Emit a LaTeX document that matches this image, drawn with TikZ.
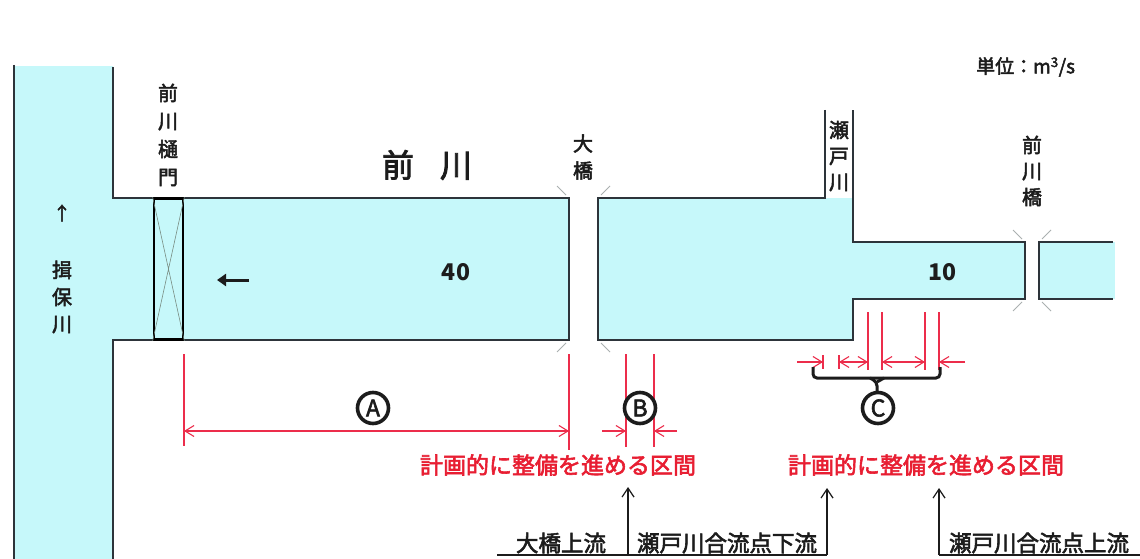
\documentclass[tikz,border=0pt]{standalone}
\usepackage{fontspec}
\setmainfont{Noto Sans CJK JP}
\newfontfamily\med{Noto Sans CJK JP}[FakeBold=2.5]
\usetikzlibrary{arrows.meta}
\definecolor{water}{RGB}{198,248,250}
\definecolor{bank}{RGB}{45,52,58}
\definecolor{ink}{RGB}{28,28,28}
\definecolor{dimred}{RGB}{236,45,75}
\definecolor{txtred}{RGB}{232,30,50}
\definecolor{bridgegray}{RGB}{170,176,176}
\definecolor{xgray}{RGB}{120,140,130}
\begin{document}
\begin{tikzpicture}[x=1pt,y=-1pt,
  bankline/.style={draw=bank,line width=1.5pt},
  bridgemark/.style={draw=bridgegray,line width=0.9pt},
  vlabel/.style={inner sep=0pt,align=center,text=ink,font=\med\fontsize{20}{#1}\selectfont},
  dimline/.style={draw=dimred,line width=1.1pt},
  dimboth/.style={dimline,{Straight Barb[length=9pt,width=11pt]}-{Straight Barb[length=9pt,width=11pt]}},
  dimto/.style={dimline,-{Straight Barb[length=9pt,width=11pt]}},
  redtext/.style={text=txtred,font=\med\fontsize{23}{23}\selectfont,inner sep=0pt},
  bottomlabel/.style={text=ink,font=\med\fontsize{22.5}{22.5}\selectfont,inner sep=0pt},
  leader/.style={draw=ink,line width=1.2pt},
  leaderarrow/.style={leader,-{Straight Barb[length=9pt,width=12pt]}},
  circlabel/.style={circle,draw=ink,fill=white,line width=3.6pt,minimum size=31pt,inner sep=0pt,font=\med\fontsize{23}{23}\selectfont,text=ink},
  gatebox/.style={draw=black,line width=2.6pt,minimum width=29pt,minimum height=141pt,inner sep=0pt},
  bracestyle/.style={draw=ink,line width=3pt,rounded corners=4pt}
]
\useasboundingbox (0,0) rectangle (1140,559);
\fill[white] (0,0) rectangle (1140,559);

% water
\fill[water] (14,66) rectangle (113,559);
\fill[water] (113,198) rectangle (569,340);
\fill[water] (598,198) rectangle (853,340);
\fill[water] (853,242) rectangle (1025,299);
\fill[water] (1039,242) rectangle (1115,299);

% banks
\draw[bankline] (14,65) -- (14,559);
\draw[bankline] (113,67) -- (113,198) -- (569,198) -- (569,340) -- (113,340) -- (113,559);
\draw[bankline] (825,110) -- (825,198) -- (598,198) -- (598,340) -- (853,340) -- (853,299) -- (1025,299) -- (1025,242) -- (853,242) -- (853,110);
\draw[bankline] (1113,242) -- (1039,242) -- (1039,299) -- (1113,299);

% bridge marks
\draw[bridgemark] (566,195) -- (557,186);
\draw[bridgemark] (601,195) -- (610,186);
\draw[bridgemark] (566,343) -- (557,352);
\draw[bridgemark] (601,343) -- (610,352);
\draw[bridgemark] (1022,239) -- (1013,230);
\draw[bridgemark] (1042,239) -- (1051,230);
\draw[bridgemark] (1022,302) -- (1013,311);
\draw[bridgemark] (1042,302) -- (1051,311);

% gate
\node (gate) [gatebox] at (168.5,269) {};
\draw[xgray,line width=0.6pt] (gate.north west) -- (gate.south east) (gate.north east) -- (gate.south west);

% flow arrow
\coordinate (flowS) at (249,280);
\coordinate (flowE) at (217,280);
\draw[ink,line width=3pt,-{Triangle[length=9pt,width=12pt]}] (flowS) -- (flowE);

% labels
\node (unit) [anchor=west,inner sep=0pt,text=ink,font=\med\fontsize{19}{19}\selectfont] at (976,67) {単位：m\textsuperscript{3}/s};
\node (title) [inner sep=0pt,text=ink,font=\med\fontsize{32}{32}\selectfont] at (427,165) {前\hspace{26pt}川};
\node (q40) [inner sep=0pt,text=ink,font=\fontsize{23}{23}\selectfont\bfseries] at (456,272) {40};
\node (q10) [inner sep=0pt,text=ink,font=\fontsize{23}{23}\selectfont\bfseries] at (942,272) {10};
\node (gatename) [vlabel=28] at (168,135) {前\\川\\樋\\門};
\node (ohashi) [vlabel=27] at (583,157) {大\\橋};
\node (seto) [vlabel=26] at (839,156) {瀬\\戸\\川};
\node (maebashi) [vlabel=26] at (1032,171) {前\\川\\橋};
\node (ibo) [vlabel=27] at (62,297) {揖\\保\\川};
\node (iboarrow) [inner sep=0pt,text=ink,font=\med\fontsize{18}{18}\selectfont] at (62,213) {↑};

% dimension A
\draw[dimline] (184,354) -- (184,446);
\draw[dimline] (569,354) -- (569,450);
\draw[dimboth] (184,431) -- (569,431);
\node[circlabel] (cA) at (373,408) {A};

% dimension B
\draw[dimline] (626,354) -- (626,447);
\draw[dimline] (654,354) -- (654,447);
\draw[dimto] (602,431) -- (626,431);
\draw[dimto] (677,431) -- (654,431);
\node[circlabel] (cB) at (640,408) {B};

% dimension C
\draw[dimline] (868,312) -- (868,370);
\draw[dimline] (882,312) -- (882,370);
\draw[dimline] (925,312) -- (925,370);
\draw[dimline] (939,312) -- (939,370);
\draw[dimline] (823,355) -- (823,369);
\draw[dimline] (839,355) -- (839,369);
\draw[dimto] (797,362) -- (823,362);
\draw[dimboth] (839,362) -- (868,362);
\draw[dimboth] (882,362) -- (925,362);
\draw[dimto] (965,362) -- (939,362);
\draw[bracestyle] (813,367) -- (813,378) -- (940,378) -- (940,367);
\draw[bracestyle] (870,378) -- (877,382) -- (877,393);
\draw[bracestyle] (884,378) -- (877,382);
\node[circlabel] (cC) at (878,408) {C};

% red texts
\node[redtext] (rt1) at (558,465) {計画的に整備を進める区間};
\node[redtext] (rt2) at (926,465) {計画的に整備を進める区間};

% bottom labels
\node[bottomlabel] (l1) at (561,543) {大橋上流};
\node[bottomlabel] (l2) at (727,543) {瀬戸川合流点下流};
\node[bottomlabel] (l3) at (1039,543) {瀬戸川合流点上流};
\coordinate (ulA) at (497,555);
\coordinate (ulB) at (827,555);
\coordinate (ulC) at (939,555);
\coordinate (ulD) at (1140,555);
\coordinate (p1) at (628,555);
\coordinate (t1) at (628,487);
\coordinate (t2) at (827,488);
\coordinate (t3) at (939,488);
\draw[leader] (ulA) -- (ulB);
\draw[leader] (ulC) -- (ulD);
\draw[leaderarrow] (p1) -- (t1);
\draw[leaderarrow] (ulB) -- (t2);
\draw[leaderarrow] (ulC) -- (t3);
\end{tikzpicture}
\end{document}
